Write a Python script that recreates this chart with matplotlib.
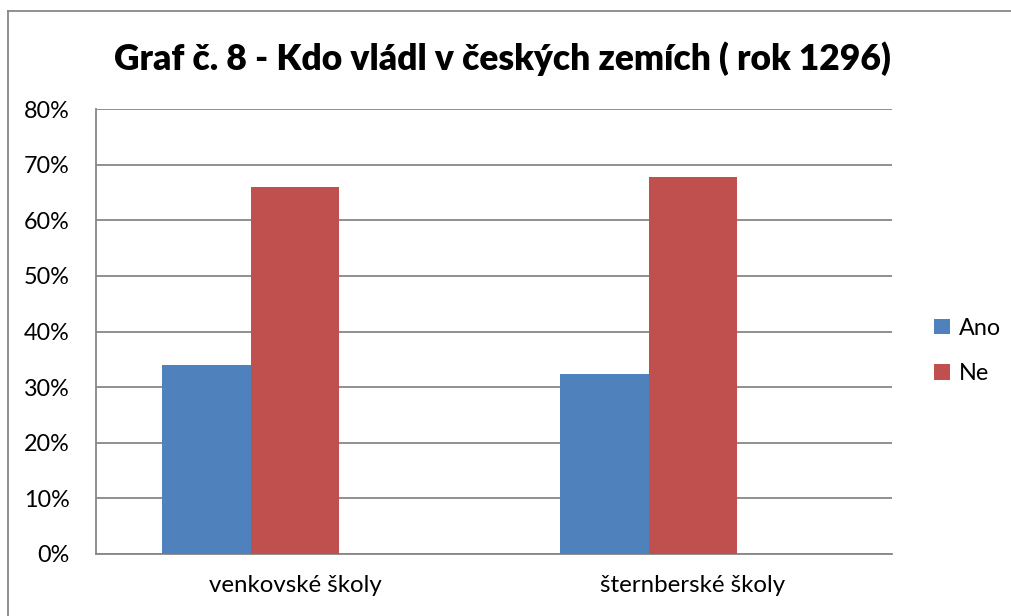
import matplotlib
matplotlib.use("Agg")
from matplotlib import pyplot as plt
from matplotlib.lines import Line2D
import numpy as np

# data (percent)
categories = ["venkovské školy", "šternberské školy"]
ano = [34.0, 32.3]
ne = [66.0, 67.7]
series_names = ["Ano", "Ne"]
yticks = [0, 10, 20, 30, 40, 50, 60, 70, 80]

plt.rcParams['font.family'] = ['Lato', 'DejaVu Sans']

fig = plt.figure(figsize=(10.11, 6.16), dpi=100)
ax = fig.add_axes([96/1011, 1-554/616, (892-96)/1011, (554-109)/616])

# excel layout: 3 slots per category (third one empty), gap 150%
w = 1/4.5
x = np.arange(len(categories))
ax.bar(x - w, ano, w, color="#4F81BD", label=series_names[0], zorder=3)
ax.bar(x, ne, w, color="#C0504D", label=series_names[1], zorder=3)

ax.set_xlim(-0.5, len(categories) - 0.5)
ax.set_ylim(0, 80)
ax.set_yticks(yticks)
ax.set_yticklabels([f"{t}%" for t in yticks])
ax.set_xticks(x)
ax.set_xticklabels(categories)
ax.tick_params(length=0, labelsize=16.8, colors="black")
ax.tick_params(axis="y", pad=19)
ax.tick_params(axis="x", labelsize=17.3, pad=15)

ax.grid(axis="y", color="#878787", linewidth=1.3, zorder=0)
for s in ["top", "right"]:
    ax.spines[s].set_visible(False)
for s in ["left", "bottom"]:
    ax.spines[s].set_color("#878787")
    ax.spines[s].set_linewidth(1.3)

fig.text(0.497, 1-59/616, "Graf č. 8 - Kdo vládl v českých zemích ( rok 1296)",
         ha="center", va="center", fontsize=25.5, fontweight="heavy")

fig.legend(loc="center left", bbox_to_anchor=(925/1011, 1-351/616), frameon=False,
           fontsize=16.8, handlelength=0.65, handleheight=0.65, handletextpad=0.4,
           labelspacing=1.05, borderaxespad=0)

# chart area border (only top and left visible in the crop)
fig.add_artist(Line2D([8/1011, 8/1011], [0, 1-11/616], transform=fig.transFigure,
                      color="#878787", linewidth=1.3))
fig.add_artist(Line2D([8/1011, 1], [1-11/616, 1-11/616], transform=fig.transFigure,
                      color="#878787", linewidth=1.3))

fig.savefig("out.png", dpi=100)
